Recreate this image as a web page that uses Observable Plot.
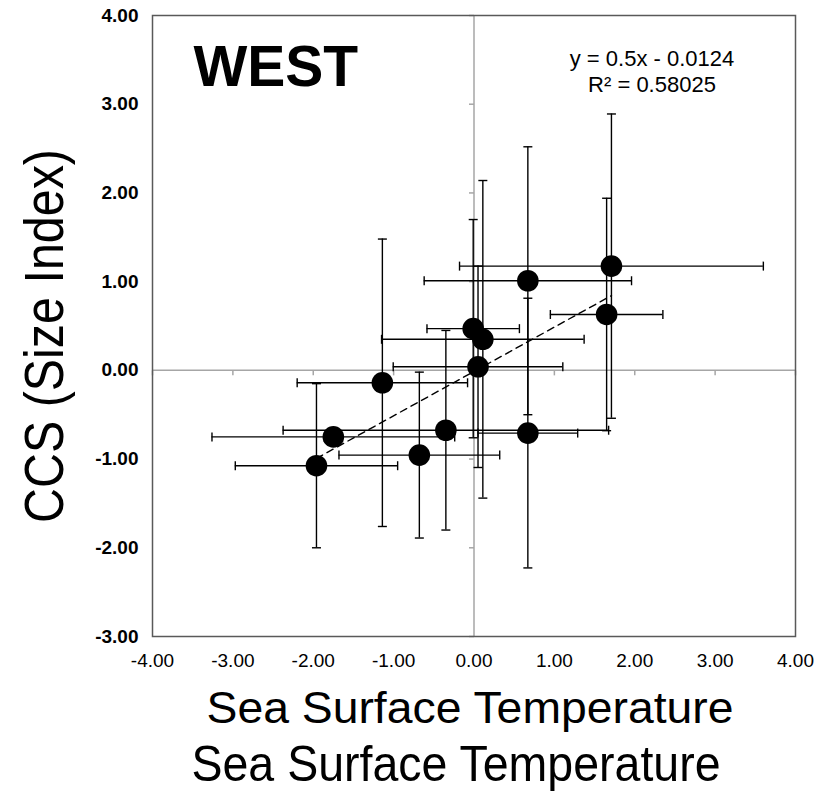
<!DOCTYPE html>
<html>
<head>
<meta charset="utf-8">
<script src="https://cdn.jsdelivr.net/npm/d3@7"></script>
<script src="https://cdn.jsdelivr.net/npm/@observablehq/plot@0.6"></script>
<style>
  body { margin: 0; background: #fff; }
  #chart svg { display: block; }
  #cap {
    width: 830px; height: 54px; position: relative; overflow: visible;
    font-family: "Liberation Sans", Arial, sans-serif;
  }
  #cap span {
    position: absolute; left: 456px; top: 1px; transform: translateX(-50%) scaleX(0.93);
    font-size: 50px; line-height: 46px; white-space: nowrap; color: #000;
  }
</style>
</head>
<body>
<div id="chart"></div>
<div id="cap"><span id="capText"></span></div>
<script>
// ---- data ----
const ptX  = [-1.96, -1.75, -1.14, -0.68, -0.35, -0.01, 0.11, 0.05, 0.67, 0.67, 1.65, 1.71];
const ptY  = [-1.075, -0.75, -0.14, -0.955, -0.675, 0.47, 0.35, 0.04, 1.01, -0.707, 0.63, 1.175];
const xErr = [1.01, 1.51, 1.06, 1.0, 2.025, 0.575, 1.26, 1.055, 1.29, 0.62, 0.70, 1.89];
const yErr = [0.925, 0, 1.62, 0.935, 1.125, 1.23, 1.79, 1.135, 1.51, 1.52, 1.31, 1.715];

const xTicks = [-4, -3, -2, -1, 0, 1, 2, 3, 4];
const yTicks = [-3, -2, -1, 0, 1, 2, 3, 4];

const trendSlope = 0.5;
const trendIntercept = -0.0124;
const eqText = "y = 0.5x - 0.0124";
const r2Text = "R\u00b2 = 0.58025";
const panelTitle = "WEST";
const xTitle = "Sea Surface Temperature";
const yTitle = "CCS (Size Index)";
const captionText = "Sea Surface Temperature";

// ---- derived tables ----
const rows = ptX.map((x, i) => ({x, y: ptY[i], xe: xErr[i], ye: yErr[i]}));
const rowsV = rows.filter(d => d.ye > 0);
const trend = [d3.min(ptX), d3.max(ptX)].map(x => ({x, y: trendSlope * x + trendIntercept}));

// custom pixel-sized symbols
const capV = {draw(c) { c.moveTo(0, -4.5); c.lineTo(0, 4.5); }};
const capH = {draw(c) { c.moveTo(-4.5, 0); c.lineTo(4.5, 0); }};
const tickDown = {draw(c) { c.moveTo(0, 0); c.lineTo(0, 5); }};
const tickLeft = {draw(c) { c.moveTo(0, 0); c.lineTo(-5, 0); }};

const fmt = d => d.toFixed(2);
const sans = "'Liberation Sans', Arial, sans-serif";
const axisGray = "#a6a6a6";

const chart = Plot.plot({
  width: 830,
  height: 740,
  marginLeft: 152,
  marginRight: 35,
  marginTop: 15,
  marginBottom: 104,
  style: {fontFamily: sans, fontSize: "19px", background: "#fff", color: "#000"},
  x: {domain: [-4, 4], ticks: xTicks, tickFormat: fmt, tickSize: 0, tickPadding: 17, label: null},
  y: {domain: [-3, 4], ticks: yTicks, tickFormat: fmt, tickSize: 0, tickPadding: 14, label: null},
  marks: [
    Plot.ruleX([0], {stroke: axisGray, strokeWidth: 1.5}),
    Plot.ruleY([0], {stroke: axisGray, strokeWidth: 1.5}),
    Plot.dot(xTicks, {x: d => d, y: () => 0, symbol: tickDown, fill: "none", stroke: axisGray, strokeWidth: 1.5}),
    Plot.dot(yTicks, {x: () => 0, y: d => d, symbol: tickLeft, fill: "none", stroke: axisGray, strokeWidth: 1.5}),
    Plot.frame({stroke: "#595959", strokeWidth: 1.5}),
    // horizontal error bars
    Plot.ruleY(rows, {y: "y", x1: d => d.x - d.xe, x2: d => d.x + d.xe, stroke: "#000", strokeWidth: 1.4}),
    Plot.dot(rows, {x: d => d.x - d.xe, y: "y", symbol: capV, fill: "none", stroke: "#000", strokeWidth: 1.4}),
    Plot.dot(rows, {x: d => d.x + d.xe, y: "y", symbol: capV, fill: "none", stroke: "#000", strokeWidth: 1.4}),
    // vertical error bars
    Plot.ruleX(rowsV, {x: "x", y1: d => d.y - d.ye, y2: d => d.y + d.ye, stroke: "#000", strokeWidth: 1.4}),
    Plot.dot(rowsV, {x: "x", y: d => d.y - d.ye, symbol: capH, fill: "none", stroke: "#000", strokeWidth: 1.4}),
    Plot.dot(rowsV, {x: "x", y: d => d.y + d.ye, symbol: capH, fill: "none", stroke: "#000", strokeWidth: 1.4}),
    // trend line
    Plot.line(trend, {x: "x", y: "y", stroke: "#000", strokeWidth: 1.4, strokeDasharray: "7,5"}),
    // points
    Plot.dot(rows, {x: "x", y: "y", r: 10.8, fill: "#000", stroke: "none"}),
    // texts
    Plot.text([panelTitle], {text: d => d, frameAnchor: "top-left", dx: 41, dy: 70, textAnchor: "start", lineAnchor: "bottom", fontSize: 57, fontWeight: "bold", fontFamily: sans}),
    Plot.text([eqText], {text: d => d, frameAnchor: "top", dx: 178, dy: 50, textAnchor: "middle", lineAnchor: "bottom", fontSize: 22, fontFamily: sans}),
    Plot.text([r2Text], {text: d => d, frameAnchor: "top", dx: 178, dy: 76, textAnchor: "middle", lineAnchor: "bottom", fontSize: 22, fontFamily: sans}),
    Plot.text([yTitle], {text: d => d, frameAnchor: "left", dx: -107, dy: 10, rotate: -90, textAnchor: "middle", lineAnchor: "middle", fontSize: 55, fontFamily: sans}),
    Plot.text([xTitle], {text: d => d, frameAnchor: "bottom", dx: -4, dy: 86, textAnchor: "middle", lineAnchor: "bottom", fontSize: 45, fontFamily: sans})
  ]
});

const svg = d3.select(chart);
svg.selectAll('g[aria-label^="x-axis"] text, g[aria-label^="y-axis"] text').style("font-size", "19px");
svg.selectAll('g[aria-label^="y-axis"] text').style("font-weight", "bold");
svg.selectAll("text").each(function () {
  const t = d3.select(this);
  if (t.text() === yTitle) t.attr("textLength", 374).attr("lengthAdjust", "spacingAndGlyphs");
  if (t.text() === xTitle) t.attr("textLength", 527).attr("lengthAdjust", "spacingAndGlyphs");
});
document.getElementById("chart").appendChild(chart);
document.getElementById("capText").textContent = captionText;
</script>
</body>
</html>
